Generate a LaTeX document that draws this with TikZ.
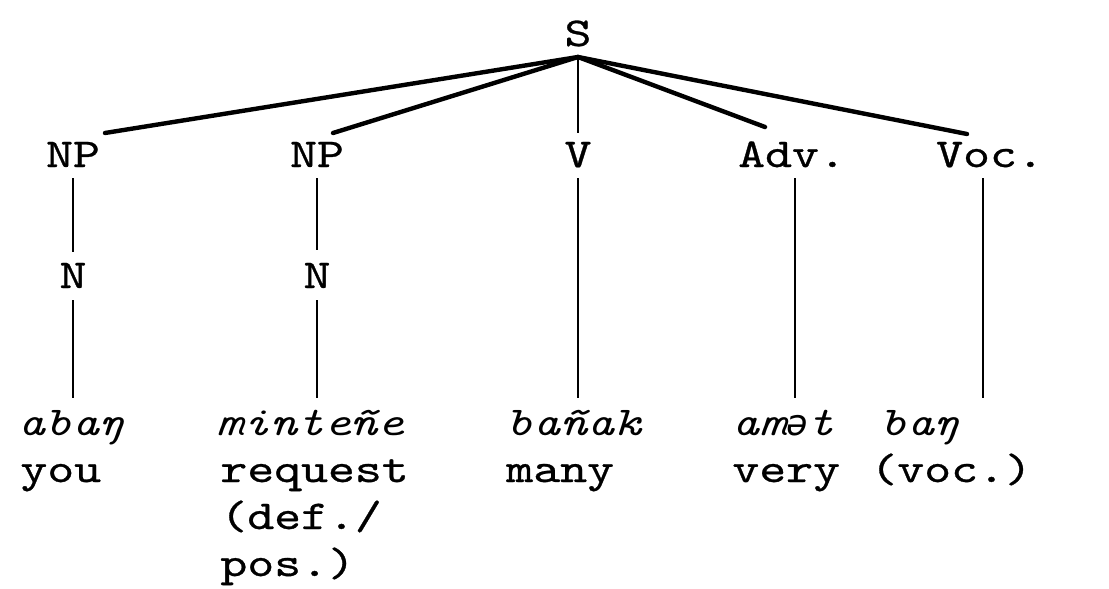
\documentclass[tikz,border=0pt]{standalone}
\usepackage{fontspec}
% typewriter face, widened to a Courier-like pitch
\setmainfont{lmmono10-regular.otf}[ItalicFont=lmmono10-italic.otf,FakeStretch=1.25,UprightFeatures={FakeBold=0.7}]
\newfontfamily\ipafont{DejaVu Sans Mono}
\begin{document}
\begin{tikzpicture}[x=0.5pt,y=-0.5pt,
  lab/.style={inner sep=0pt,anchor=base,font=\fontsize{20.5}{24}\selectfont},
  word/.style={inner sep=0pt,anchor=base west,font=\fontsize{20.5}{24}\selectfont\itshape},
  gloss/.style={inner sep=0pt,anchor=base west,font=\fontsize{20.5}{24}\selectfont},
  branch/.style={line width=2.2pt,line cap=round},
  stem/.style={line width=1.1pt}]
\useasboundingbox (0,0) rectangle (1109,589);

% category labels
\node[lab] (s)   at (578,46)  {S};
\node[lab] (np1) at (73,167)  {NP};
\node[lab] (np2) at (317,167) {NP};
\node[lab] (v)   at (578,167) {V};
\node[lab] (adv) at (792,167) {Adv.};
\node[lab] (voc) at (990,167) {Voc.};
\node[lab] (n1)  at (73,288)  {N};
\node[lab] (n2)  at (317,288) {N};

% words
\node[word] (w1) at (18,435)  {abaŋ};
\node[word] (w2) at (216,435) {minteñe};
\node[word] (w3) at (506,435) {bañak};
\node[word] (w4) at (732,435) {am{\ipafont\fontsize{18}{22}\selectfont ə}t};
\node[word] (w5) at (880,435) {baŋ};

% glosses
\node[gloss] (g1)  at (20,482)  {you};
\node[gloss] (g2)  at (220,482) {request};
\node[gloss] (g2b) at (220,529) {(def./};
\node[gloss] (g2c) at (220,576) {pos.)};
\node[gloss] (g3)  at (506,482) {many};
\node[gloss] (g4)  at (732,482) {very};
\node[gloss] (g5)  at (870,482) {(voc.)};

% attachment points
\coordinate (sfoot) at (578,57);
\coordinate (np1top) at (105,133);
\coordinate (np2top) at (333,133);
\coordinate (vtop)   at (578,133);
\coordinate (advtop) at (765,127);
\coordinate (voctop) at (967,134);

% branches from S
\draw[branch] (sfoot) -- (np1top);
\draw[branch] (sfoot) -- (np2top);
\draw[stem]   (sfoot) -- (vtop);
\draw[branch] (sfoot) -- (advtop);
\draw[branch] (sfoot) -- (voctop);

% stems down to the words
\draw[stem] (73,178) -- (73,252);
\draw[stem] (73,300) -- (73,398);
\draw[stem] (317,178) -- (317,250);
\draw[stem] (317,300) -- (317,398);
\draw[stem] (578,178) -- (578,398);
\draw[stem] (795,178) -- (795,398);
\draw[stem] (983,178) -- (983,398);
\end{tikzpicture}
\end{document}
